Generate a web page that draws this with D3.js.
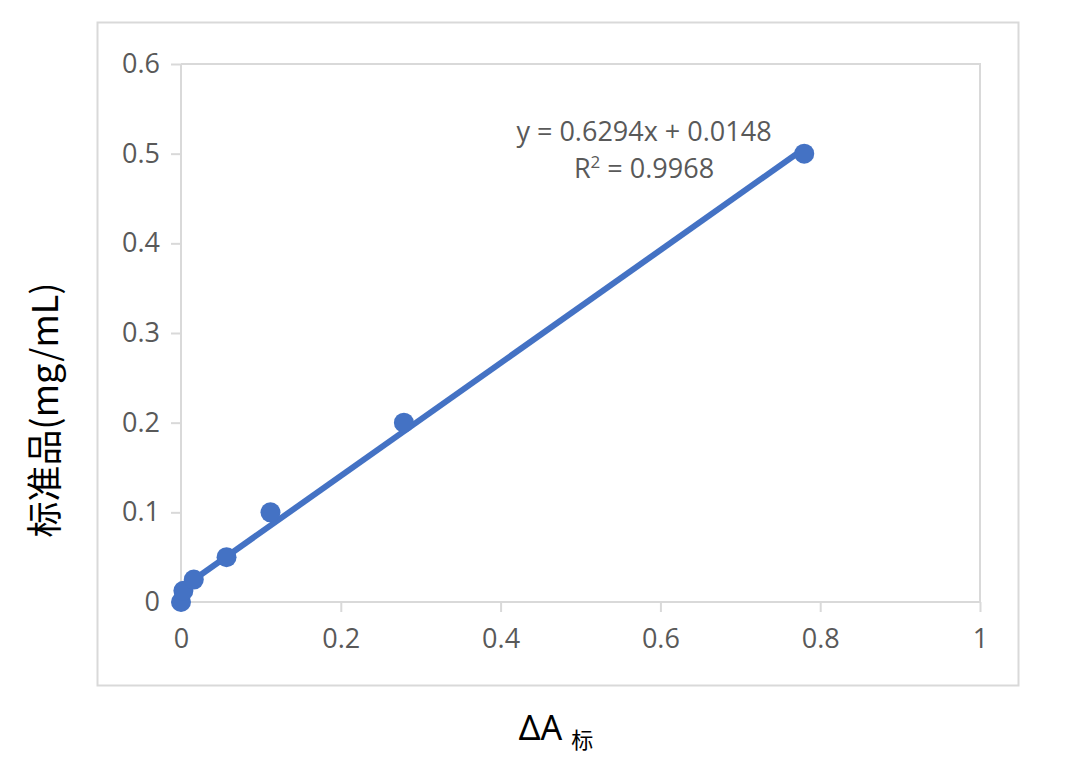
<!DOCTYPE html>
<html>
<head>
<meta charset="utf-8">
<script src="https://cdn.jsdelivr.net/npm/d3@7"></script>
<style>
  body { margin: 0; background: #fff; }
</style>
</head>
<body>
<svg width="1080" height="759"></svg>
<script>
// data
var xValues = [0, 0.003, 0.016, 0.057, 0.112, 0.279, 0.78];
var yValues = [0, 0.0125, 0.025, 0.05, 0.1, 0.2, 0.5];
var xTicks = [0, 0.2, 0.4, 0.6, 0.8, 1];
var yTicks = [0, 0.1, 0.2, 0.3, 0.4, 0.5, 0.6];
var slope = 0.6294, intercept = 0.0148;
var eqText = "y = 0.6294x + 0.0148";
var r2Value = "0.9968";

var svg = d3.select("svg");
var plotLeft = 181, plotRight = 980, plotTop = 64, plotBottom = 602;
var grey = "#595959", lineGrey = "#d9d9d9", blue = "#4472C4";
var font = "'Open Sans', 'Noto Sans', sans-serif";

var xScale = d3.scaleLinear().domain([0, 1]).range([plotLeft, plotRight]);
var yScale = d3.scaleLinear().domain([0, 0.6]).range([plotBottom, plotTop]);

// chart frame
svg.append("rect")
  .attr("x", 97.5).attr("y", 22.5)
  .attr("width", 921).attr("height", 663)
  .style("fill", "none").style("stroke", lineGrey).style("stroke-width", 2);

// plot border top / right
svg.append("path")
  .attr("d", "M" + plotLeft + "," + plotTop + "H" + plotRight + "V" + plotBottom)
  .style("fill", "none").style("stroke", lineGrey).style("stroke-width", 2);

// axes
var xAxis = svg.append("g")
  .attr("transform", "translate(0," + plotBottom + ")")
  .call(d3.axisBottom(xScale).tickValues(xTicks).tickSize(10).tickPadding(17).tickFormat(d3.format("")));
var yAxis = svg.append("g")
  .attr("transform", "translate(" + plotLeft + ",0)")
  .call(d3.axisLeft(yScale).tickValues(yTicks).tickSize(10).tickPadding(11).tickFormat(d3.format("")));

[xAxis, yAxis].forEach(function (ax) {
  ax.select(".domain").style("stroke", lineGrey).style("stroke-width", 2);
  ax.selectAll(".tick line").style("stroke", lineGrey).style("stroke-width", 2);
  ax.selectAll(".tick text")
    .style("fill", grey).style("font-family", font).style("font-size", "27px");
});
yAxis.select(".domain").attr("d", "M0," + (plotBottom + 10) + "V" + plotTop);
xAxis.select(".domain").attr("d", "M" + plotLeft + ",0H" + plotRight);

// trend line
var xEnd = d3.max(xValues);
var trend = [[0, intercept], [xEnd, slope * xEnd + intercept]];
svg.append("path")
  .datum(trend)
  .attr("d", d3.line().x(function (d) { return xScale(d[0]); }).y(function (d) { return yScale(d[1]); }))
  .style("fill", "none").style("stroke", blue).style("stroke-width", 6);

// points
svg.append("g")
  .selectAll("circle")
  .data(xValues.map(function (x, i) { return [x, yValues[i]]; }))
  .enter()
  .append("circle")
  .attr("cx", function (d) { return xScale(d[0]); })
  .attr("cy", function (d) { return yScale(d[1]); })
  .attr("r", 10)
  .style("fill", blue);

// equation label
svg.append("text")
  .attr("x", 644).attr("y", 141)
  .attr("text-anchor", "middle")
  .style("font-family", font).style("font-size", "27px").style("fill", grey)
  .text(eqText);
var r2 = svg.append("text")
  .attr("x", 644).attr("y", 178)
  .attr("text-anchor", "middle")
  .style("font-family", font).style("font-size", "27px").style("fill", grey);
r2.append("tspan").text("R");
r2.append("tspan").attr("dy", -10).style("font-size", "17px").text("2");
r2.append("tspan").attr("dy", 10).text(" = " + r2Value);

// x title
var xt = svg.append("text")
  .attr("x", 556).attr("y", 740)
  .attr("text-anchor", "middle")
  .style("font-family", "'Noto Sans', 'Noto Sans CJK SC', sans-serif").style("font-size", "34px").style("fill", "#000");
xt.append("tspan").text("ΔA ");
xt.append("tspan").attr("dy", 8).style("font-size", "22px")
  .style("font-family", "'Noto Sans CJK SC', sans-serif").text("标");

// y title
svg.append("text")
  .attr("transform", "translate(58,410)rotate(-90)")
  .attr("text-anchor", "middle")
  .style("font-family", "'Noto Sans CJK SC', 'Noto Sans', sans-serif").style("font-size", "36px").style("fill", "#000")
  .text("标准品(mg/mL)");
</script>
</body>
</html>
